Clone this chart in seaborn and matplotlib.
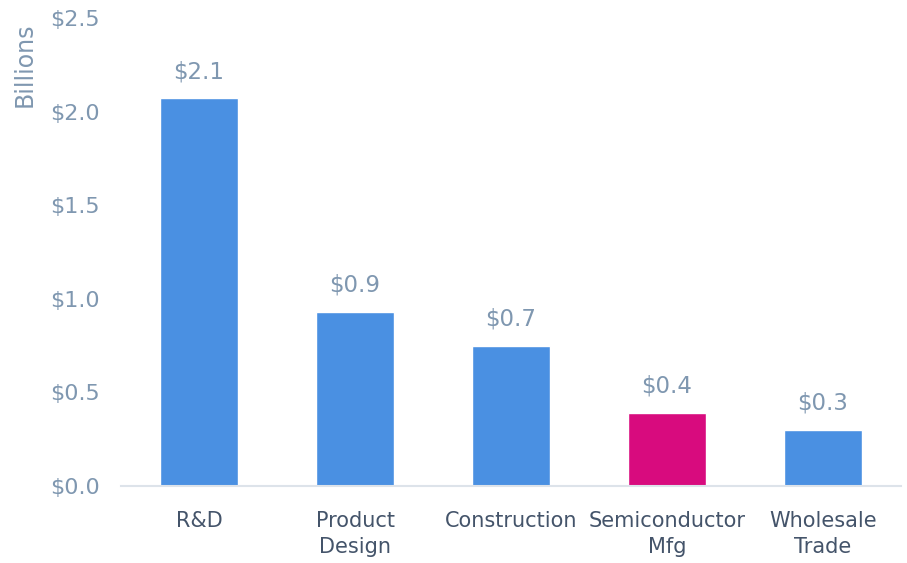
import matplotlib
matplotlib.use("Agg")
import matplotlib.pyplot as plt
import seaborn as sns
import pandas as pd

categories = ["R&D", "Product\nDesign", "Construction", "Semiconductor\nMfg", "Wholesale\nTrade"]
values = [2.07, 0.93, 0.75, 0.39, 0.30]
value_labels = ["$2.1", "$0.9", "$0.7", "$0.4", "$0.3"]
colors = ["#4a90e2", "#4a90e2", "#4a90e2", "#d80b7e", "#4a90e2"]
yticks = [0.0, 0.5, 1.0, 1.5, 2.0, 2.5]
ytick_labels = ["$0.0", "$0.5", "$1.0", "$1.5", "$2.0", "$2.5"]

sns.set_theme(style="white")
plt.rcParams["font.family"] = ["DejaVu Sans"]

tick_color = "#7f97b0"
cat_color = "#44546a"

df = pd.DataFrame({"cat": categories, "val": values})
fig = plt.figure(figsize=(9.07, 5.63), dpi=100)
ax = fig.add_axes([121/907, 77/563, (901-121)/907, (486-18)/563])
sns.barplot(data=df, x="cat", y="val", hue="cat", palette=colors, legend=False,
            width=0.5, saturation=1, ax=ax)

ax.set_xlim(-0.5, 4.5)
ax.set_ylim(0, 2.5)
ax.set_yticks(yticks)
ax.set_yticklabels(ytick_labels)
ax.tick_params(axis="y", colors=tick_color, labelsize=16, length=0, pad=15)
ax.tick_params(axis="x", colors=cat_color, labelsize=15, length=0, pad=18)
for lbl in ax.get_xticklabels():
    lbl.set_color(cat_color)
    lbl.set_linespacing(1.4)
ax.set_xlabel("")
ax.set_ylabel("Billions", color=tick_color, fontsize=17)
ax.yaxis.set_label_coords(-0.108, 0.99)
ax.yaxis.label.set_verticalalignment("bottom")
ax.yaxis.label.set_horizontalalignment("right")

for s in ["top", "right", "left"]:
    ax.spines[s].set_visible(False)
ax.spines["bottom"].set_color("#dde3ea")
ax.spines["bottom"].set_linewidth(1.5)

for i, (v, t) in enumerate(zip(values, value_labels)):
    ax.annotate(t, (i, v), xytext=(0, 11), textcoords="offset points",
                ha="center", va="bottom", color=tick_color, fontsize=16.5)

fig.savefig("out.png", dpi=100)
